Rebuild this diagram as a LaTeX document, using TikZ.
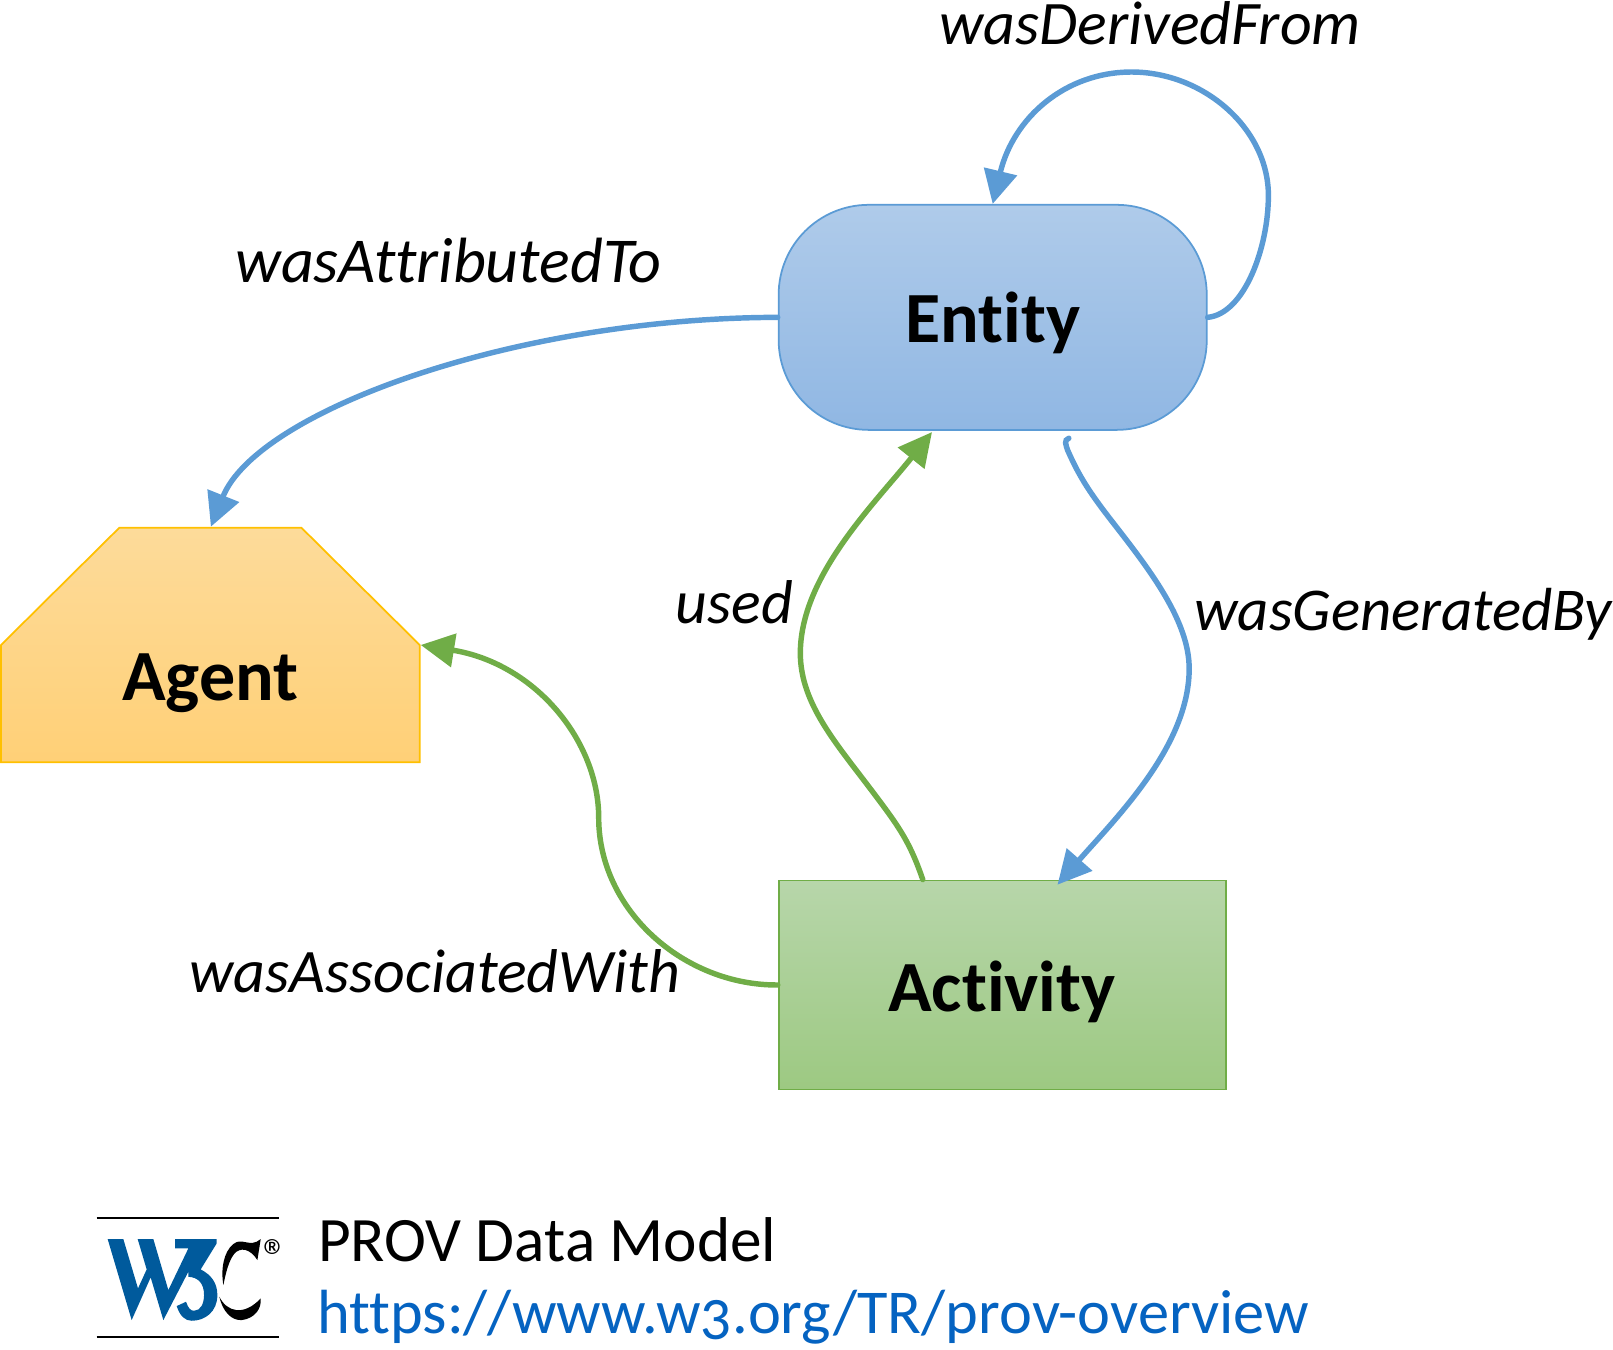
\documentclass[tikz,border=0pt]{standalone}
\usepackage{fontspec}
\setmainfont[Numbers=OldStyle,Ligatures=NoCommon]{Carlito}
\usetikzlibrary{arrows.meta}
\definecolor{provblue}{HTML}{5B9BD5}
\definecolor{provgreen}{HTML}{70AD47}
\definecolor{provorange}{HTML}{FFC000}
\definecolor{provlink}{HTML}{0563C1}
\definecolor{wsblue}{HTML}{005A9C}
\definecolor{entitytop}{HTML}{AFCBEA}
\definecolor{entitybot}{HTML}{90B7E3}
\definecolor{activitytop}{HTML}{B7D6AA}
\definecolor{activitybot}{HTML}{9DC982}
\definecolor{agenttopc}{HTML}{FDDB9A}
\definecolor{agentbot}{HTML}{FFD077}
\tikzset{
    kindbox/.style={font=\fontsize{41}{41}\selectfont\bfseries, inner sep=0pt},
    reltext/.style={font=\fontsize{#1}{36}\selectfont\itshape, inner sep=0pt},
    reltext/.default=35.2,
    foottext/.style={font=\fontsize{#1}{36}\selectfont, inner sep=0pt, anchor=base west},
    bluelink/.style={draw=provblue, line width=3.1pt, line cap=round, -{Triangle[length=0.67cm,width=0.66cm]}},
    greenlink/.style={bluelink, draw=provgreen},
}
\begin{document}
\begin{tikzpicture}[x=0.02057cm, y=-0.02057cm]
    \useasboundingbox (0,0) rectangle (1568,1312);
    \node [draw=provblue, line width=1pt, top color=entitytop, bottom color=entitybot, minimum width=8.56cm, minimum height=4.5cm, rounded corners=1.8cm] (entity) at (965,308.5) {};
    \node [kindbox] (entitytext) at (965,314) {Entity};
    \node [draw=provgreen, line width=1pt, top color=activitytop, bottom color=activitybot, minimum width=8.95cm, minimum height=4.18cm] (activity) at (974.5,957.5) {};
    \node [kindbox] (activitytext) at (974,964) {Activity};
    \draw [draw=provorange, line width=1pt, top color=agenttopc, bottom color=agentbot] (1,627) -- (116,513) -- (293,513) -- (408,627) -- (408,741) -- (1,741) -- cycle;
    \node [kindbox] (agent) at (204.5,664) {Agent};
    \coordinate (agenttop) at (205,512);
    \coordinate (agentcorner) at (409,627);
    \coordinate (usedstart) at (897,855);
    \coordinate (usedend) at (906,420);
    \coordinate (genstart) at (1039,426);
    \coordinate (genend) at (1028,860);

    \draw [bluelink] (entity.east) .. controls (1210,305) and (1233,240) .. (1233,190) .. controls (1233,125) and (1170,70) .. (1100,70) .. controls (1035,70) and (985,115) .. (entity.north);
    \draw [bluelink] (entity.west) .. controls (500,309) and (250,400) .. (agenttop);
    \draw [bluelink] (genstart) .. controls (1034,428) and (1036,432) .. (1038,438) .. controls (1050,465) and (1060,480) .. (1085,512) .. controls (1120,557) and (1156,605) .. (1156,650) .. controls (1156,725) and (1085,795) .. (genend);
    \draw [greenlink] (usedstart) .. controls (885,820) and (875,805) .. (850,772) .. controls (815,725) and (778,685) .. (778,635) .. controls (778,560) and (850,490) .. (usedend);
    \draw [greenlink] (activity.west) .. controls (665,958) and (582,885) .. (582,795) .. controls (582,720) and (520,645) .. (agentcorner);

    \node [reltext] (derived) at (1118,23) {wasDerivedFrom};
    \node [reltext=36.4] (attributed) at (436,253) {wasAttributedTo};
    \node [reltext] (used) at (714,585) {used};
    \node [reltext=34.6] (generated) at (1364,597) {wasGeneratedBy};
    \node [reltext] (associated) at (423,944) {wasAssociatedWith};

    \node [foottext=36] (title) at (309,1226) {PROV Data Model};
    \node [foottext=35.5, text=provlink] (url) at (308,1296) {https://www.w3.org/TR/prov-overview};

    \begin{scope}[shift={(58.3,1147.1)}, x=0.00667cm, y=-0.00667cm]
        \draw [line width=1.4pt] (110,114) -- (658,114);
        \draw [line width=1.4pt] (110,471) -- (658,471);
        \fill [wsblue] (143,177) -- (190,177) -- (234,325) -- (260,268) -- (233,177) -- (280,177) -- (325,330) -- (385,205) -- (345,205) -- (345,177) -- (470,177) -- (470,190) -- (422,268) .. controls (455,285) and (472,310) .. (472,345) .. controls (472,395) and (435,422) .. (395,422) .. controls (375,422) and (360,408) .. (350,378) -- (378,365) .. controls (385,385) and (392,392) .. (402,392) .. controls (422,392) and (432,370) .. (432,345) .. controls (432,310) and (415,292) .. (385,290) -- (385,275) -- (310,420) -- (272,292) -- (215,420) -- cycle;
        \fill [black] (602,177) -- (592,240) .. controls (570,205) and (540,200) .. (522,222) .. controls (505,245) and (497,280) .. (490,315) .. controls (482,270) and (490,215) .. (520,192) .. controls (545,170) and (570,205) .. (602,177) -- cycle;
        \fill [black] (478,350) .. controls (500,395) and (550,410) .. (602,355) .. controls (605,385) and (585,415) .. (545,420) .. controls (515,422) and (488,395) .. (478,350) -- cycle;
        \node [inner sep=0pt, font=\fontsize{28}{28}\selectfont] (regmark) at (648,230) {\textregistered};
    \end{scope}
\end{tikzpicture}
\end{document}
